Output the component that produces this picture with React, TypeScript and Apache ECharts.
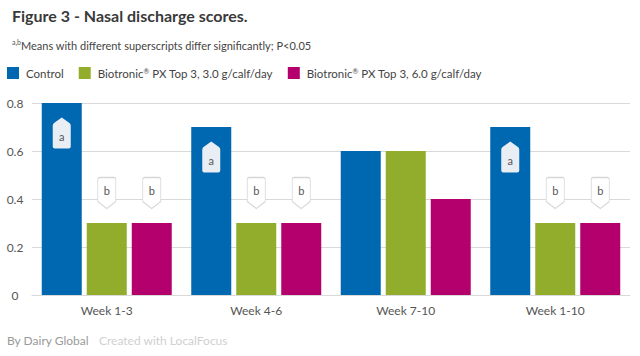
import React, { useEffect, useRef } from "react";
import * as echarts from "echarts";

const categories = ["Week 1-3", "Week 4-6", "Week 7-10", "Week 1-10"];
const seriesNames = [
  "Control",
  "Biotronic\u00ae PX Top 3, 3.0 g/calf/day",
  "Biotronic\u00ae PX Top 3, 6.0 g/calf/day",
];
const controlValues = [0.8, 0.7, 0.6, 0.7];
const dose3Values = [0.3, 0.3, 0.6, 0.3];
const dose6Values = [0.3, 0.3, 0.4, 0.3];
const controlLetters = ["a", "a", "", "a"];
const dose3Letters = ["b", "b", "", "b"];
const dose6Letters = ["b", "b", "", "b"];
const yTicks = { min: 0, max: 0.8, interval: 0.2 };

const colors = ["#0067b1", "#92ad2b", "#b4006d"];
const FONT = "Lato";

const badgeUp =
  "path://M2,5 L9,0 L16,5 Q18,6 18,8 L18,29 Q18,31 16,31 L2,31 Q0,31 0,29 L0,8 Q0,6 2,5 Z";
const badgeDown =
  "path://M2,0 L16,0 Q18,0 18,2 L18,24 L9,31 L0,24 L0,2 Q0,0 2,0 Z";

function marks(values: number[], letters: string[], up: boolean) {
  return {
    symbol: up ? badgeUp : badgeDown,
    symbolSize: [18, 31],
    symbolOffset: [0, up ? 30 : -30],
    itemStyle: up
      ? { color: "#e8eef4", borderWidth: 0 }
      : { color: "#ffffff", borderColor: "#d6d6d6", borderWidth: 1 },
    label: {
      show: true,
      position: "inside",
      formatter: "{b}",
      color: "#555555",
      fontSize: 11,
      fontFamily: FONT,
      offset: [0, up ? 3 : -3],
    },
    data: letters
      .map((l, i) => (l ? { name: l, coord: [categories[i], values[i]] } : null))
      .filter(Boolean),
  };
}

export default function App() {
  const ref = useRef<HTMLDivElement>(null);
  useEffect(() => {
    document.body.style.margin = "0";
    const chart = echarts.init(ref.current!, null, { renderer: "svg" });
    const allValues = [controlValues, dose3Values, dose6Values];
    const allLetters = [controlLetters, dose3Letters, dose6Letters];
    chart.setOption({
      animation: false,
      textStyle: { fontFamily: FONT },
      title: [
        {
          text: "Figure 3 - Nasal discharge scores.",
          left: 7,
          top: 2,
          textStyle: { fontFamily: FONT, fontSize: 16, fontWeight: "bold", color: "#3a3a3a" },
        },
        {
          text: "{sup|a,b}{t|Means with different superscripts differ significantly; P<0.05}",
          left: 7,
          top: 33,
          textStyle: {
            fontWeight: "normal",
            rich: {
              sup: { fontSize: 7, color: "#555", fontFamily: FONT, fontWeight: "normal", verticalAlign: "top", lineHeight: 14 },
              t: { fontSize: 11, color: "#444", fontFamily: FONT, fontWeight: "normal", lineHeight: 14 },
            },
          },
        },
      ],
      legend: {
        data: seriesNames,
        left: 7,
        top: 67,
        padding: 0,
        icon: "rect",
        itemWidth: 12,
        itemHeight: 12,
        itemGap: 15,
        formatter: (n: string) => n.replace("\u00ae", "{sup|\u00ae}"),
        textStyle: {
          fontSize: 11.5,
          color: "#444",
          fontFamily: FONT,
          padding: [0, 0, 0, 2],
          rich: {
            sup: { fontSize: 7, color: "#444", fontFamily: FONT, verticalAlign: "top", lineHeight: 12 },
          },
        },
      },
      grid: { left: 32, right: 10, top: 103, bottom: 61, containLabel: false },
      xAxis: {
        type: "category",
        data: categories,
        axisLine: { show: true, lineStyle: { color: "#d9d9d9" } },
        axisTick: { show: false },
        axisLabel: { color: "#555", fontSize: 12, margin: 9, fontFamily: FONT },
      },
      yAxis: {
        type: "value",
        min: yTicks.min,
        max: yTicks.max,
        interval: yTicks.interval,
        axisLine: { show: false },
        axisTick: { show: false },
        axisLabel: { color: "#555", fontSize: 12, margin: 17, align: "center", fontFamily: FONT },
        splitLine: { lineStyle: { color: "#d9d9d9", width: 1 } },
      },
      series: seriesNames.map((name, k) => ({
        name,
        type: "bar",
        data: allValues[k],
        barWidth: 40,
        barGap: "12.5%",
        itemStyle: { color: colors[k] },
        markPoint: marks(allValues[k], allLetters[k], k === 0),
      })),
      graphic: [
        {
          type: "text",
          left: 7,
          top: 334,
          style: { text: "By Dairy Global", fill: "#9a9a9a", fontSize: 12, fontFamily: FONT },
        },
        {
          type: "text",
          left: 99,
          top: 334,
          style: { text: "Created with LocalFocus", fill: "#d0d0d0", fontSize: 12, fontFamily: FONT },
        },
      ],
    });
    return () => chart.dispose();
  }, []);
  return <div ref={ref} style={{ width: 640, height: 356 }} />;
}
